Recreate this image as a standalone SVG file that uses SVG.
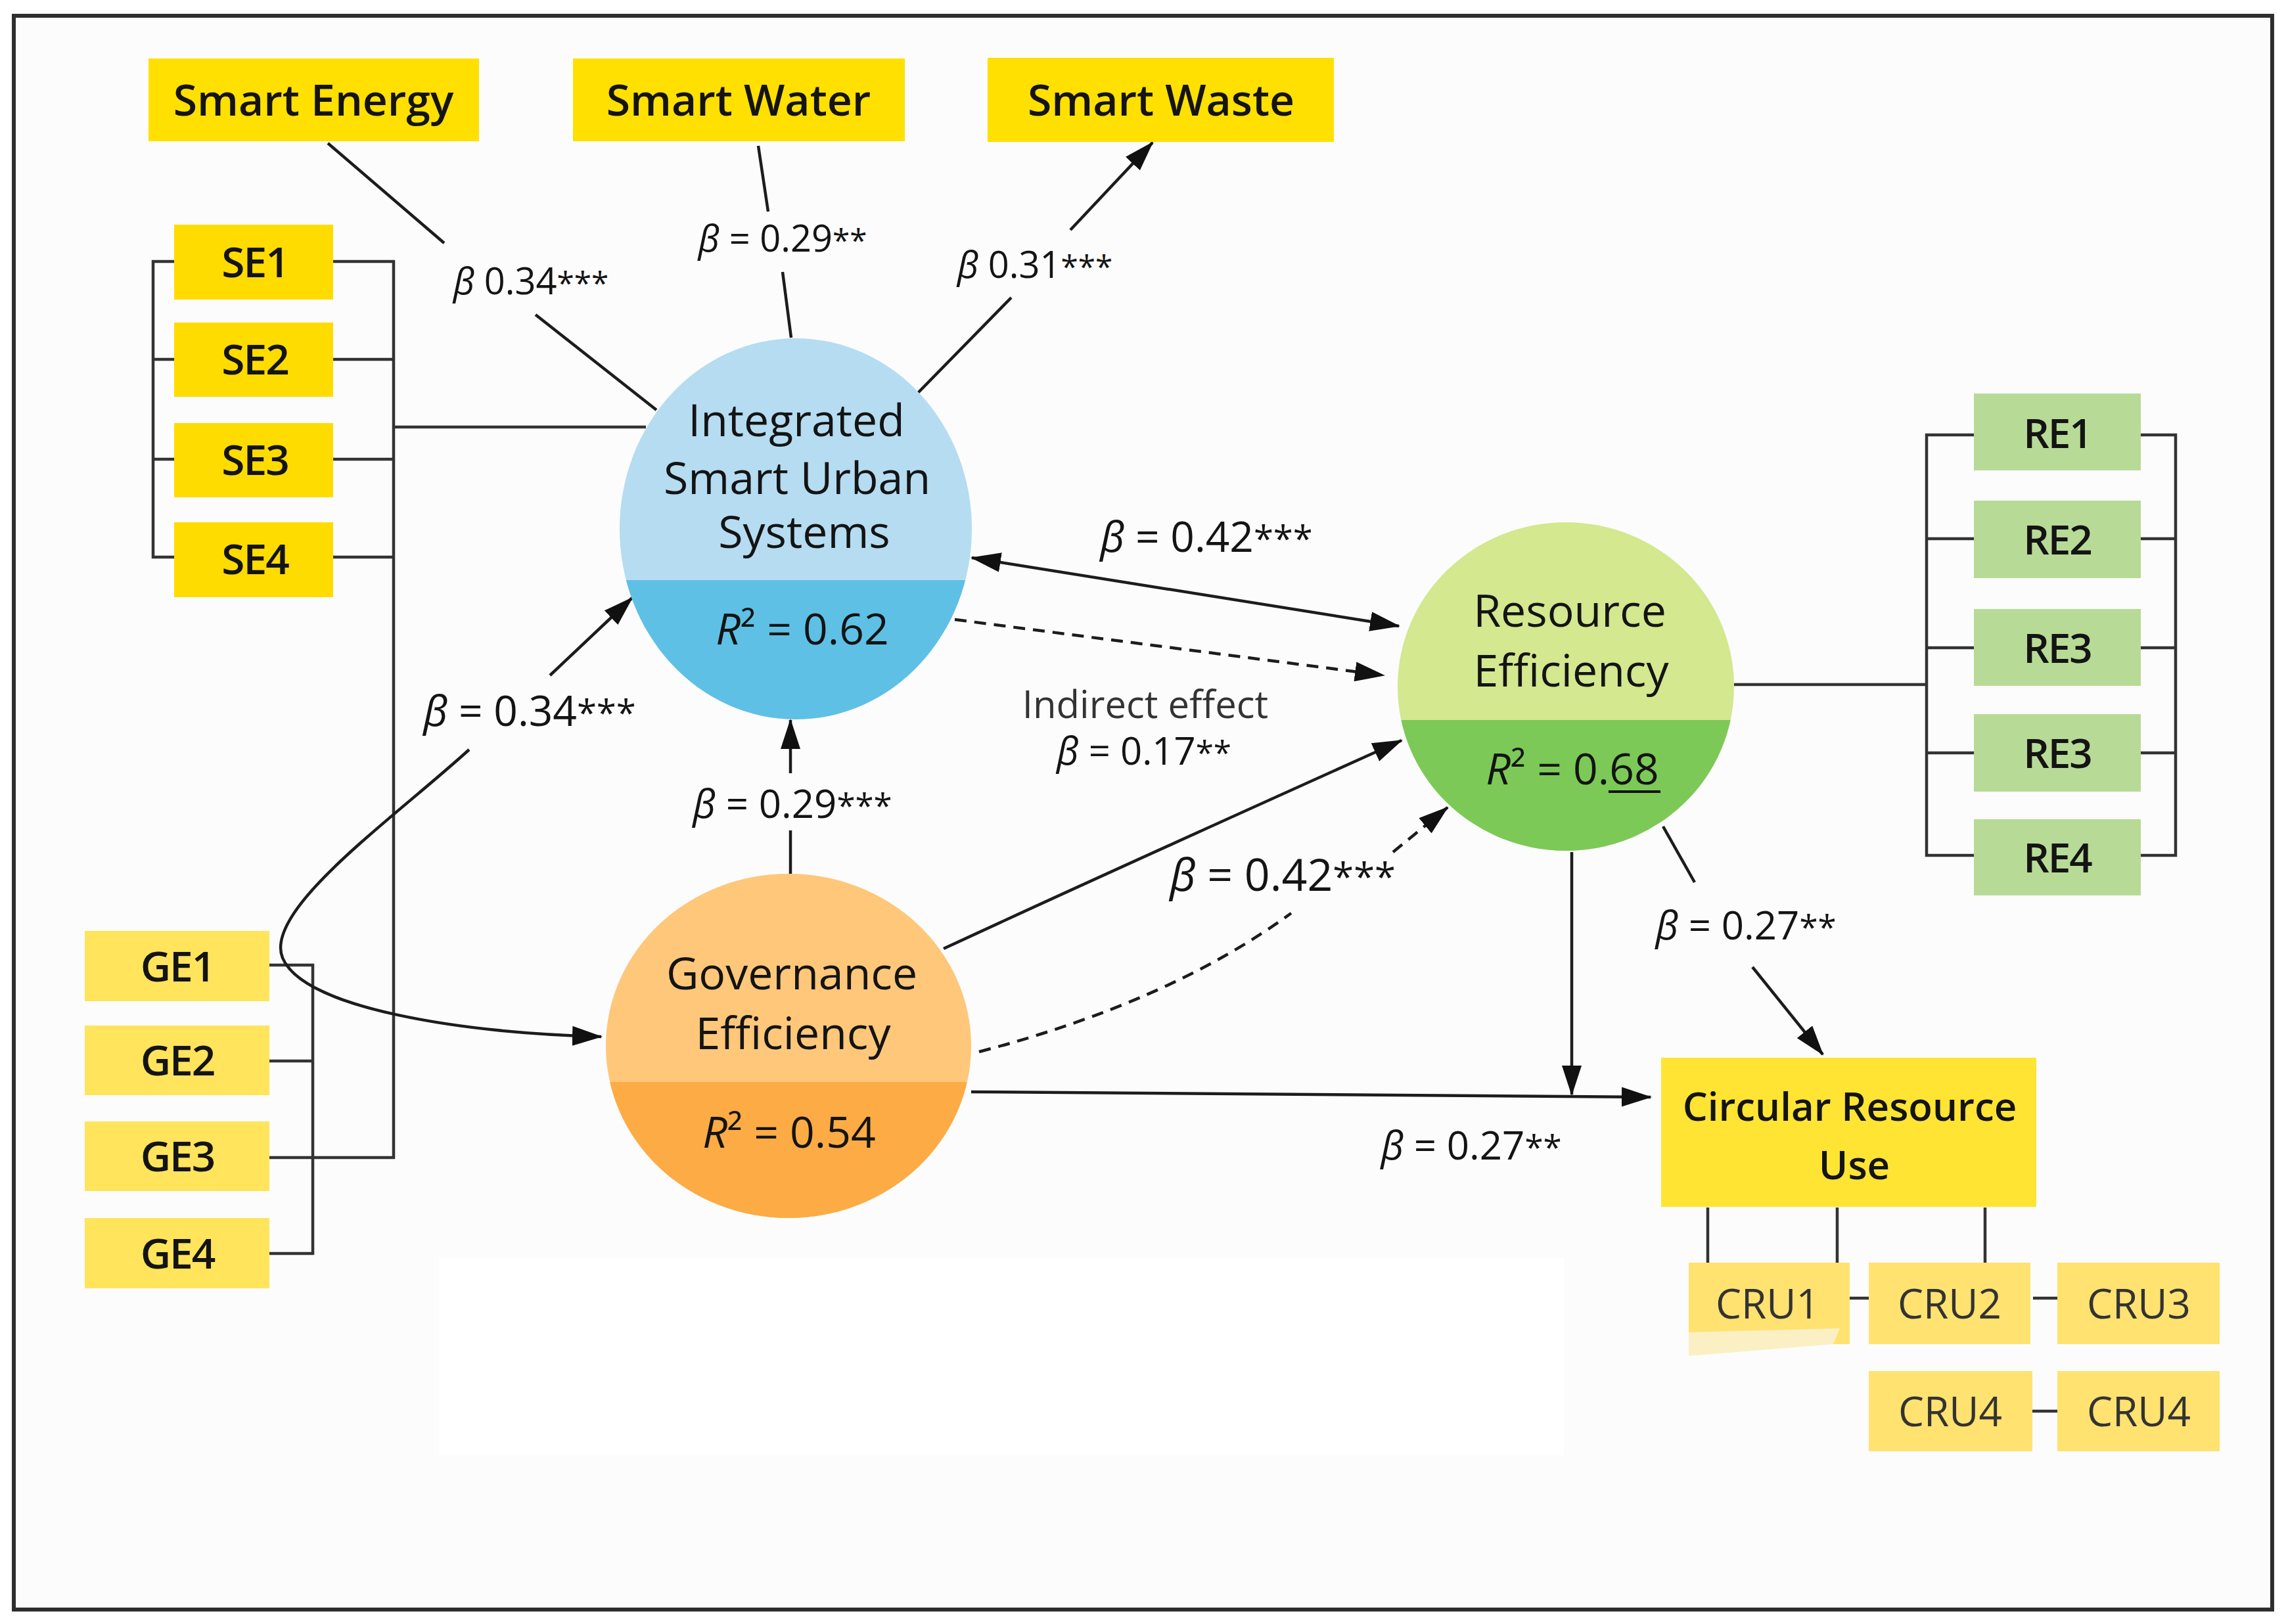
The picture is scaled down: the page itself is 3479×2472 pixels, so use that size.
<svg xmlns="http://www.w3.org/2000/svg" width="3479" height="2472" viewBox="0 0 3479 2472">
<defs>
<style>
text{font-family:"Open Sans","Liberation Sans",sans-serif;fill:#141414;text-anchor:middle}
.box{font-weight:600;font-size:66px}
.ind{font-weight:600;font-size:64px;letter-spacing:-2px}
.cru{font-weight:400;font-size:62px;fill:#333}
.node{font-weight:500;font-size:68px}
.r2{font-weight:400;font-size:66px}
.beta{font-weight:400;font-size:64px}
.betas{font-weight:400;font-size:56px}
.it{font-style:italic}
.st{font-size:0.85em}
.ln{fill:none;stroke:#1c1c1c;stroke-width:4.5}
.br{fill:none;stroke:#333;stroke-width:4.5}
.ar{marker-end:url(#ah)}
.dash{stroke-dasharray:18 12}
</style>
<marker id="ah" viewBox="0 0 46 30" refX="44" refY="15" markerWidth="46" markerHeight="30" markerUnits="userSpaceOnUse" orient="auto-start-reverse">
<path d="M0,0 L46,15 L0,30 z" fill="#111" stroke="none"/>
</marker>
<clipPath id="cI"><ellipse cx="1211" cy="805" rx="268" ry="290"/></clipPath>
<clipPath id="cG"><ellipse cx="1200" cy="1592" rx="278" ry="262"/></clipPath>
<clipPath id="cR"><ellipse cx="2383" cy="1045" rx="256" ry="250"/></clipPath>
</defs>
<rect x="0" y="0" width="3479" height="2472" fill="#ffffff"/>
<rect x="21" y="24" width="3437" height="2426" fill="#fcfcfc" stroke="#2e2e2e" stroke-width="6"/>
<rect x="668" y="1915" width="1712" height="300" fill="#ffffff"/>

<g id="connectors">
<path class="ln" d="M499 218 L676 370 M815 479 L999 624"/>
<path class="ln" d="M1154 222 L1169 322 M1191 414 L1204 514"/>
<path class="ln" d="M1395 600 L1539 453"/>
<path class="ln ar" d="M1629 350 L1754 217"/>
<path class="br" d="M265 398 H233 V848 H265 M233 547 H265 M233 699 H265"/>
<path class="br" d="M507 398 H599 V1762 H410 M507 547 H599 M507 699 H599 M507 848 H599 M599 650 H983"/>
<path class="br" d="M410 1469 H476 V1908 H410 M410 1615 H476"/>
<path class="ln ar" d="M837 1028 L962 910"/>
<path class="ln ar" d="M714 1141 C600 1245 400 1385 430 1458 C462 1535 700 1572 915 1578"/>
<path class="ln" d="M1203 1330 V1264"/>
<path class="ln ar" d="M1203 1177 V1096"/>
<path class="ln ar" d="M1479 849 L2129 953" marker-start="url(#ah)"/>
<path class="ln ar dash" d="M1453 943 L2106 1028"/>
<path class="ln ar" d="M1436 1444 Q1660 1340 2133 1127"/>
<path class="ln dash" d="M1490 1601 Q1780 1525 1965 1390"/>
<path class="ln ar dash" d="M2120 1297 L2203 1229"/>
<path class="ln ar" d="M1478 1662 L2512 1670"/>
<path class="ln ar" d="M2392 1297 V1666"/>
<path class="ln" d="M2531 1258 L2579 1343"/>
<path class="ln ar" d="M2667 1472 L2774 1605"/>
<path class="br" d="M2639 1042 H2932 M3004 662 H2932 V1302 H3004 M2932 820 H3004 M2932 986 H3004 M2932 1146 H3004"/>
<path class="br" d="M3258 662 H3311 V1302 H3258 M3258 820 H3311 M3258 986 H3311 M3258 1146 H3311"/>
<path class="br" d="M2599 1838 V1922 M2796 1838 V1922 M3021 1838 V1922"/>
<path class="br" d="M2815 1976 H2844 M3094 1976 H3131 M3093 2148 H3131"/>
</g>

<g id="labels">
<text class="betas" x="808" y="448"><tspan class="it">β</tspan> 0.34<tspan class="st">***</tspan></text>
<text class="betas" x="1191" y="383"><tspan class="it">β</tspan> = 0.29<tspan class="st">**</tspan></text>
<text class="betas" x="1575" y="423"><tspan class="it">β</tspan> 0.31<tspan class="st">***</tspan></text>
<text class="beta" x="1836" y="840"><tspan class="it">β</tspan> = 0.42<tspan class="st">***</tspan></text>
<text class="beta" x="806" y="1105"><tspan class="it">β</tspan> = 0.34<tspan class="st">***</tspan></text>
<text style="font-size:58px;fill:#333" x="1743" y="1093">Indirect effect</text>
<text class="beta" style="font-size:58px" x="1741" y="1164"><tspan class="it">β</tspan> = 0.17<tspan class="st">**</tspan></text>
<text class="beta" style="font-size:60px" x="1206" y="1245"><tspan class="it">β</tspan> = 0.29<tspan class="st">***</tspan></text>
<text class="beta" style="font-size:68px" x="1952" y="1356"><tspan class="it">β</tspan> = 0.42<tspan class="st">***</tspan></text>
<text class="beta" style="font-size:60px" x="2657" y="1430"><tspan class="it">β</tspan> = 0.27<tspan class="st">**</tspan></text>
<text class="beta" style="font-size:60px" x="2239" y="1765"><tspan class="it">β</tspan> = 0.27<tspan class="st">**</tspan></text>
</g>

<g id="smart-energy"><rect x="226" y="89" width="503" height="126" fill="#ffe000"/><text class="box" x="477" y="176">Smart Energy</text></g>
<g id="smart-water"><rect x="872" y="89" width="505" height="126" fill="#ffe000"/><text class="box" x="1124" y="176">Smart Water</text></g>
<g id="smart-waste"><rect x="1503" y="88" width="527" height="128" fill="#ffe000"/><text class="box" x="1767" y="176">Smart Waste</text></g>

<g id="se1"><rect x="265" y="342" width="242" height="114" fill="#ffdc00"/><text class="ind" x="388" y="422">SE1</text></g>
<g id="se2"><rect x="265" y="491" width="242" height="113" fill="#ffdc00"/><text class="ind" x="388" y="570">SE2</text></g>
<g id="se3"><rect x="265" y="644" width="242" height="113" fill="#ffdc00"/><text class="ind" x="388" y="723">SE3</text></g>
<g id="se4"><rect x="265" y="795" width="242" height="114" fill="#ffdc00"/><text class="ind" x="388" y="874">SE4</text></g>

<g id="ge1"><rect x="129" y="1417" width="281" height="107" fill="#ffe45c"/><text class="ind" x="270" y="1494">GE1</text></g>
<g id="ge2"><rect x="129" y="1561" width="281" height="106" fill="#ffe45c"/><text class="ind" x="270" y="1637">GE2</text></g>
<g id="ge3"><rect x="129" y="1707" width="281" height="106" fill="#ffe45c"/><text class="ind" x="270" y="1783">GE3</text></g>
<g id="ge4"><rect x="129" y="1854" width="281" height="107" fill="#ffe45c"/><text class="ind" x="270" y="1931">GE4</text></g>

<g id="integrated">
<ellipse cx="1211" cy="805" rx="268" ry="290" fill="#b5dcf1"/>
<rect x="940" y="883" width="540" height="220" fill="#5fc0e5" clip-path="url(#cI)"/>
<text class="node" x="1212" y="664">Integrated</text>
<text class="node" x="1213" y="752">Smart Urban</text>
<text class="node" x="1224" y="834">Systems</text>
<text class="r2" x="1221" y="981"><tspan class="it">R</tspan>² = 0.62</text>
</g>

<g id="governance">
<ellipse cx="1200" cy="1592" rx="278" ry="262" fill="#fec77a"/>
<rect x="920" y="1647" width="560" height="210" fill="#fdab44" clip-path="url(#cG)"/>
<text class="node" x="1205" y="1506">Governance</text>
<text class="node" x="1207" y="1597">Efficiency</text>
<text class="r2" x="1201" y="1747"><tspan class="it">R</tspan>² = 0.54</text>
</g>

<g id="resource-efficiency">
<ellipse cx="2383" cy="1045" rx="256" ry="250" fill="#d3e88f"/>
<rect x="2125" y="1096" width="520" height="200" fill="#7cc957" clip-path="url(#cR)"/>
<text class="node" x="2389" y="954">Resource</text>
<text class="node" x="2391" y="1045">Efficiency</text>
<text class="r2" x="2393" y="1194"><tspan class="it">R</tspan>² = 0.68</text>
<path d="M2448 1205 H2527" stroke="#141414" stroke-width="4"/>
</g>

<g id="re1"><rect x="3004" y="599" width="254" height="117" fill="#b7db96"/><text class="ind" style="font-size:62px" x="3131" y="682">RE1</text></g>
<g id="re2"><rect x="3004" y="762" width="254" height="118" fill="#b7db96"/><text class="ind" style="font-size:62px" x="3131" y="844">RE2</text></g>
<g id="re3"><rect x="3004" y="927" width="254" height="117" fill="#b7db96"/><text class="ind" style="font-size:62px" x="3131" y="1009">RE3</text></g>
<g id="re3b"><rect x="3004" y="1087" width="254" height="118" fill="#b7db96"/><text class="ind" style="font-size:62px" x="3131" y="1169">RE3</text></g>
<g id="re4"><rect x="3004" y="1247" width="254" height="116" fill="#b7db96"/><text class="ind" style="font-size:62px" x="3131" y="1328">RE4</text></g>

<g id="circular-resource-use">
<rect x="2528" y="1610" width="571" height="227" fill="#ffe433"/>
<text class="box" style="font-size:60px" x="2815" y="1706">Circular Resource</text>
<text class="box" style="font-size:60px" x="2822" y="1795">Use</text>
</g>
<g id="cru1"><rect x="2570" y="1922" width="245" height="124" fill="#ffe270"/><path d="M2570 2028 L2800 2022 L2790 2046 L2570 2064 Z" fill="#fbf0c4"/><text class="cru" x="2690" y="2007">CRU1</text></g>
<g id="cru2"><rect x="2844" y="1922" width="246" height="124" fill="#ffe270"/><text class="cru" x="2967" y="2007">CRU2</text></g>
<g id="cru3"><rect x="3131" y="1922" width="247" height="124" fill="#ffe270"/><text class="cru" x="3255" y="2007">CRU3</text></g>
<g id="cru4a"><rect x="2844" y="2087" width="249" height="122" fill="#ffe270"/><text class="cru" x="2968" y="2171">CRU4</text></g>
<g id="cru4b"><rect x="3131" y="2087" width="247" height="122" fill="#ffe270"/><text class="cru" x="3255" y="2171">CRU4</text></g>
</svg>
